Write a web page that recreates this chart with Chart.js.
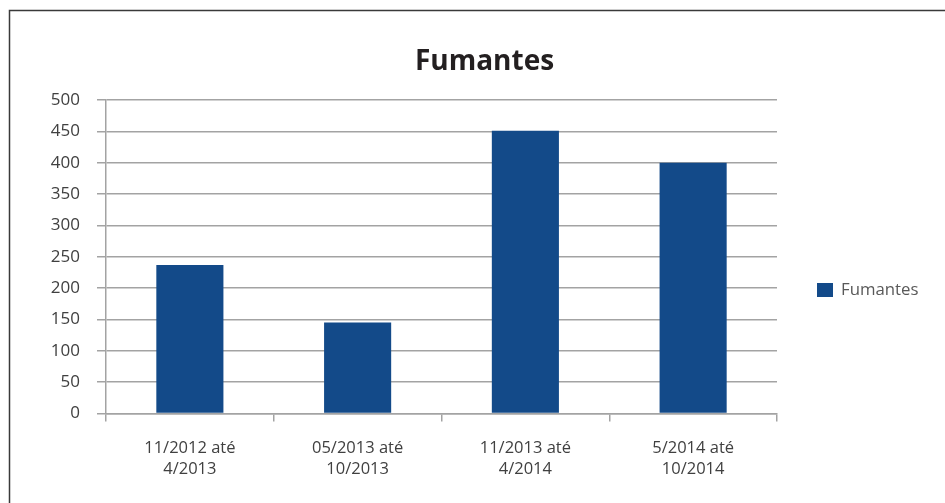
<!DOCTYPE html>
<html>
<head>
<meta charset="utf-8">
<script src="https://cdn.jsdelivr.net/npm/chart.js@4"></script>
<style>
  body { margin: 0; background: #fff; }
  #wrap { width: 945px; height: 503px; position: relative; }
</style>
</head>
<body>
<div id="wrap"><canvas id="fumChart"></canvas></div>
<script>
const chartTitle = 'Fumantes';
const categories = [
    ['11/2012 até', '4/2013'],
    ['05/2013 até', '10/2013'],
    ['11/2013 até', '4/2014'],
    ['5/2014 até', '10/2014']
];
const seriesName = 'Fumantes';
const fumantes = [237, 145, 451, 400];
const yMax = 500;
const yStep = 50;

const fonte = "'Open Sans', 'Noto Sans', sans-serif";
const corBarra = '#134a89';
const corGrade = '#a3a3a3';

// moldura e legenda desenhadas a mao
const molduraPlugin = {
    id: 'moldura',
    beforeDraw(chart) {
        const ctx = chart.ctx;
        ctx.save();
        ctx.fillStyle = '#fff';
        ctx.fillRect(0, 0, chart.width, chart.height);
        ctx.strokeStyle = '#3a3a3a';
        ctx.lineWidth = 1.5;
        ctx.strokeRect(9.5, 10.5, chart.width + 50, chart.height + 50);
        ctx.restore();
    },
    afterDraw(chart) {
        const ctx = chart.ctx;
        const area = chart.chartArea;
        const ds = chart.data.datasets[0];
        const x = area.right + 40;
        const y = area.top + 190;
        ctx.save();
        ctx.fillStyle = ds.backgroundColor;
        ctx.fillRect(x, y - 7, 16, 14);
        ctx.fillStyle = '#595959';
        ctx.font = '16.8px ' + fonte;
        ctx.textBaseline = 'middle';
        ctx.fillText(ds.label, x + 24, y);
        ctx.restore();
    }
};

const ctx = document.getElementById('fumChart').getContext('2d');
new Chart(ctx, {
    type: 'bar',
    data: {
        labels: categories,
        datasets: [{
            label: seriesName,
            data: fumantes,
            backgroundColor: corBarra,
            categoryPercentage: 1,
            barPercentage: 0.4
        }]
    },
    options: {
        responsive: true,
        maintainAspectRatio: false,
        animation: false,
        layout: { padding: { top: 45, left: 24, right: 0, bottom: 0 } },
        plugins: {
            legend: { display: false },
            tooltip: { enabled: false },
            title: {
                display: true,
                text: chartTitle,
                color: '#231f20',
                font: { family: fonte, size: 28, weight: 'bold' },
                padding: { top: 0, bottom: 21.4 }
            }
        },
        scales: {
            x: {
                grid: {
                    display: true,
                    drawOnChartArea: false,
                    drawTicks: true,
                    tickLength: 8,
                    offset: true,
                    color: corGrade,
                    lineWidth: 1.5
                },
                border: { display: true, color: corGrade, width: 1.5 },
                ticks: {
                    color: '#404040',
                    font: { family: fonte, size: 16.5, lineHeight: 1.27 },
                    padding: 16.5,
                    maxRotation: 0
                },
                afterFit(scale) { scale.height = 89.5; }
            },
            y: {
                min: 0,
                max: yMax,
                grid: {
                    color: corGrade,
                    lineWidth: 1.5,
                    drawTicks: true,
                    tickLength: 9
                },
                border: { display: true, color: corGrade, width: 1.5 },
                ticks: {
                    stepSize: yStep,
                    color: '#404040',
                    font: { family: fonte, size: 17 },
                    padding: 17
                },
                afterFit(scale) { scale.width = 82; }
            },
            espaco: {
                position: 'right',
                display: true,
                grid: { display: false },
                border: { display: false },
                ticks: { display: false },
                afterFit(scale) { scale.width = 168; }
            }
        }
    },
    plugins: [molduraPlugin]
});
</script>
</body>
</html>
